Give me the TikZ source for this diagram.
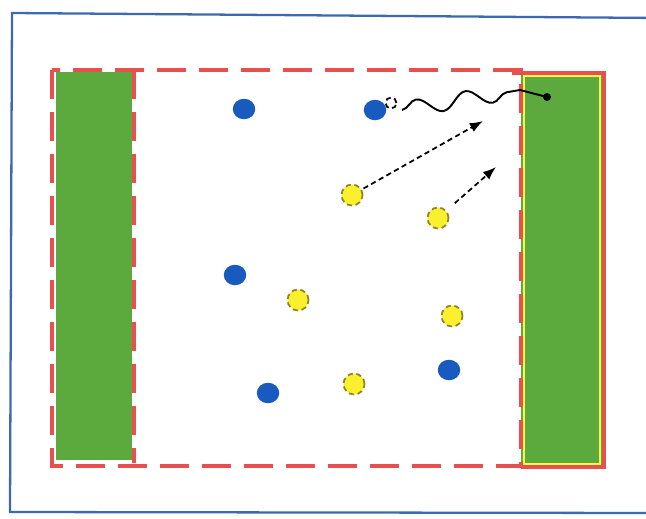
\documentclass[tikz,border=0pt]{standalone}
\usepackage{tikz}
\usetikzlibrary{arrows.meta,decorations.pathmorphing,shapes.geometric}
\definecolor{pitchgreen}{RGB}{92,170,62}
\definecolor{lineRed}{RGB}{232,80,80}
\definecolor{frameBlue}{RGB}{60,105,175}
\definecolor{teamBlue}{RGB}{25,90,190}
\definecolor{teamYellow}{RGB}{250,240,45}
\definecolor{yellowRim}{RGB}{150,130,40}

\begin{document}
\begin{tikzpicture}[>=Latex,x=0.02cm,y=-0.02cm,
  redline/.style={lineRed,line width=2pt},
  reddash/.style={lineRed,line width=1.9pt,dash pattern=on 0.58cm off 0.26cm},
  blueplayer/.style={ellipse,fill=teamBlue,minimum width=0.45cm,minimum height=0.41cm,inner sep=0pt},
  yellowplayer/.style={circle,fill=teamYellow,draw=yellowRim,densely dashed,line width=1pt,minimum size=0.42cm,inner sep=0pt},
  runline/.style={->,densely dashed,line width=1pt,shorten <=1pt}]
  \useasboundingbox (0,0) rectangle (646,518);
  % outer frame
  \draw[frameBlue,line width=1.3pt] (660,18) -- (12,13) -- (10,512) -- (660,513);
  % end zones
  \fill[pitchgreen] (56,72) rectangle (132,460);
  \fill[pitchgreen] (521,74) rectangle (602,466);
  \draw[yellow!70!white,line width=0.6pt] (524,76) rectangle (600,464);
  \draw[redline] (512,73) -- (604,73) -- (604,467) -- (521,467);
  % field
  \draw[reddash] (52,70) rectangle (521,466);
  \draw[reddash] (134,70) -- (134,463);
  % players
  \foreach \n/\x/\y in {b1/244/109,b2/375/110,b3/235/275,b4/268/393,b5/449/370}
    \node[blueplayer] (\n) at (\x,\y) {};
  \foreach \n/\x/\y in {y1/352/195,y2/438/218,y3/298/300,y4/452/316,y5/354/384}
    \node[yellowplayer] (\n) at (\x,\y) {};
  % ball and dribble
  \node[circle,fill=white,draw=black,densely dashed,line width=1pt,minimum size=0.22cm,inner sep=0pt] (ball) at (391,103) {};
  \coordinate (w0) at (402,110);
  \coordinate (w1) at (520,90);
  \coordinate (goal) at (547,97);
  \draw[line width=1.1pt,decorate,decoration={snake,amplitude=0.16cm,segment length=1cm,post length=2pt}] (w0) -- (w1);
  \draw[line width=1.1pt] (w1) -- (goal);
  \fill (goal) circle (0.08cm);
  % runs
  \coordinate (r1) at (483,121);
  \coordinate (r2) at (496,167);
  \draw[runline] (y1) -- (r1);
  \draw[runline,shorten <=0.22cm] (y2) -- (r2);
\end{tikzpicture}
\end{document}
